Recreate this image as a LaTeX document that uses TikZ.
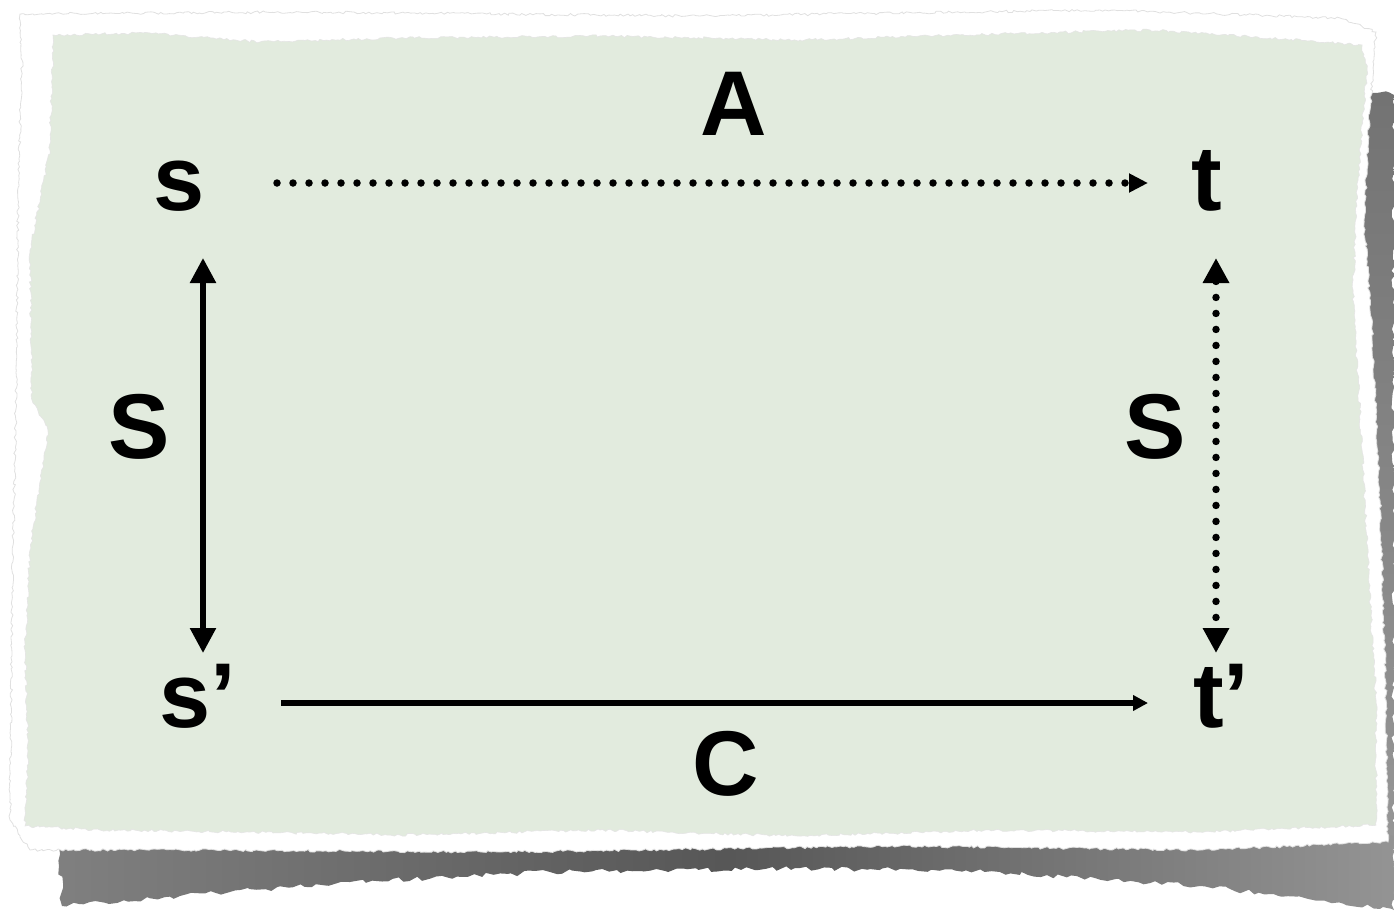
\documentclass[tikz,border=0pt]{standalone}
\usepackage{fontspec}
\setmainfont{Liberation Sans}
\usetikzlibrary{arrows.meta,decorations.pathmorphing}
\definecolor{paper}{RGB}{226,235,222}
\begin{document}
\begin{tikzpicture}[x=1pt,y=-1pt,
  lbl/.style={inner sep=0pt, anchor=base, font=\fontsize{92}{100}\selectfont\bfseries},
  solidline/.style={line width=5.5pt},
  dotline/.style={line width=7.5pt, line cap=round, dash pattern=on 0pt off 16pt},
  bighead/.style={{Triangle[length=25pt,width=25pt]}-{Triangle[length=25pt,width=25pt]}},
  smallhead/.style={-{Triangle[length=15pt,width=15pt]}},
  dothead/.style={-{Triangle[length=19pt,width=18pt]}},
  torn/.style={decorate, decoration={random steps, segment length=3pt, amplitude=1.3pt}},
  shadowtorn/.style={decorate, decoration={random steps, segment length=6pt, amplitude=2.5pt}},
]
\pgfmathsetseed{7}
\useasboundingbox (0,0) rectangle (1394,910);
% shadow: right strip
\shade[top color=black!55, bottom color=black!40, shadowtorn]
  (1360,90) -- (1394,95) -- (1394,900) -- (1360,900) -- cycle;
% shadow: bottom band
\shade[left color=black!50, right color=black!42, middle color=black!66, shadowtorn]
  (58,836) -- (62,906) -- (180,896) -- (350,882) -- (550,872) -- (800,868)
  -- (1000,872) -- (1200,886) -- (1394,910) -- (1394,836) -- cycle;
% white rim
\filldraw[fill=white, draw=black!12, line width=0.8pt, torn]
  (20,14) -- (300,12) -- (700,16) -- (1100,10) -- (1340,18) -- (1376,32) -- (1370,110)
  -- (1364,220) -- (1372,330) -- (1380,500) -- (1386,700) -- (1388,842) -- (1200,850)
  -- (900,846) -- (500,852) -- (200,850) -- (30,850) -- (10,820) -- (12,600)
  -- (16,400) -- (18,200) -- (22,60) -- cycle;
% green paper
\filldraw[fill=paper, draw=black!10, line width=0.6pt, torn]
  (53,35) -- (150,33) -- (260,42) -- (400,38) -- (600,36) -- (800,40) -- (1000,34)
  -- (1150,30) -- (1270,38) -- (1362,45) -- (1367,70) -- (1357,190) -- (1353,290)
  -- (1362,450) -- (1370,600) -- (1376,700) -- (1376,825) -- (1200,832) -- (1000,830)
  -- (800,836) -- (600,830) -- (400,835) -- (250,832) -- (100,830) -- (25,826)
  -- (28,750) -- (25,650) -- (30,550) -- (48,430) -- (32,400) -- (30,250)
  -- (50,150) -- cycle;
% labels
\node[lbl] (A) at (734,135) {A};
\node[lbl] (s) at (179,210) {s};
\node[lbl] (t) at (1207,210) {t};
\node[lbl,anchor=base west] (s2) at (159,727) {s’};
\node[lbl,anchor=base west] (t2) at (1193,727) {t’};
\node[lbl] (SL) at (139,458) {S};
\node[lbl] (SR) at (1155,458) {S};
\node[lbl] (C) at (726,795) {C};
% connectors
\draw[dotline, dothead] ([shift={(98,-27)}]s.base) -- ([shift={(-59,-27)}]t.base);
\draw[solidline, bighead] ([shift={(24,48)}]s.base) -- ([shift={(44,-74)}]s2.base west);
\draw[dotline, bighead] ([shift={(9,48)}]t.base) -- ([shift={(23,-74)}]t2.base west);
\draw[solidline, smallhead] ([shift={(122,-24)}]s2.base west) -- ([shift={(-45,-24)}]t2.base west);
\end{tikzpicture}
\end{document}
